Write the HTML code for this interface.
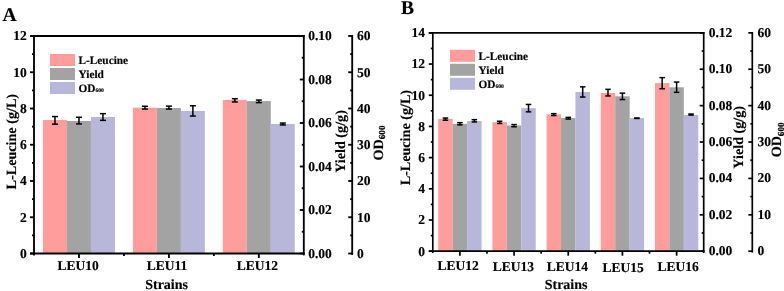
<!DOCTYPE html>
<html><head><meta charset="utf-8"><style>
html,body{margin:0;padding:0;background:#fff;overflow:hidden;width:784px;height:291px;}
svg{display:block;filter:blur(0.3px);}
text{font-family:"Liberation Serif", serif;font-weight:bold;fill:#000;text-rendering:geometricPrecision;stroke:#000;stroke-width:0.15px;}
</style></head><body>
<svg width="784" height="291" viewBox="0 0 784 291">
<rect width="784" height="291" fill="#fff"/>
<rect x="42.99" y="120.00" width="23.98" height="133.50" fill="#FF9D9D"/>
<rect x="66.97" y="121.00" width="23.98" height="132.50" fill="#A3A3A3"/>
<rect x="90.96" y="117.00" width="23.98" height="136.50" fill="#B8B7DA"/>
<rect x="132.92" y="107.70" width="23.98" height="145.80" fill="#FF9D9D"/>
<rect x="156.90" y="108.00" width="23.98" height="145.50" fill="#A3A3A3"/>
<rect x="180.89" y="111.00" width="23.98" height="142.50" fill="#B8B7DA"/>
<rect x="222.85" y="99.90" width="23.98" height="153.60" fill="#FF9D9D"/>
<rect x="246.83" y="101.10" width="23.98" height="152.40" fill="#A3A3A3"/>
<rect x="270.82" y="124.00" width="23.98" height="129.50" fill="#B8B7DA"/>
<line x1="54.98366666666667" y1="116.55" x2="54.98366666666667" y2="124.15" stroke="#000" stroke-width="1.5"/>
<line x1="51.98366666666667" y1="116.55" x2="57.98366666666667" y2="116.55" stroke="#000" stroke-width="1.5"/>
<line x1="51.98366666666667" y1="124.15" x2="57.98366666666667" y2="124.15" stroke="#000" stroke-width="1.5"/>
<line x1="78.965" y1="117.25" x2="78.965" y2="123.95" stroke="#000" stroke-width="1.5"/>
<line x1="75.965" y1="117.25" x2="81.965" y2="117.25" stroke="#000" stroke-width="1.5"/>
<line x1="75.965" y1="123.95" x2="81.965" y2="123.95" stroke="#000" stroke-width="1.5"/>
<line x1="102.94633333333334" y1="113.65" x2="102.94633333333334" y2="120.35" stroke="#000" stroke-width="1.5"/>
<line x1="99.94633333333334" y1="113.65" x2="105.94633333333334" y2="113.65" stroke="#000" stroke-width="1.5"/>
<line x1="99.94633333333334" y1="120.35" x2="105.94633333333334" y2="120.35" stroke="#000" stroke-width="1.5"/>
<line x1="144.91366666666667" y1="106.25" x2="144.91366666666667" y2="109.05" stroke="#000" stroke-width="1.5"/>
<line x1="141.91366666666667" y1="106.25" x2="147.91366666666667" y2="106.25" stroke="#000" stroke-width="1.5"/>
<line x1="141.91366666666667" y1="109.05" x2="147.91366666666667" y2="109.05" stroke="#000" stroke-width="1.5"/>
<line x1="168.895" y1="106.15" x2="168.895" y2="109.05" stroke="#000" stroke-width="1.5"/>
<line x1="165.895" y1="106.15" x2="171.895" y2="106.15" stroke="#000" stroke-width="1.5"/>
<line x1="165.895" y1="109.05" x2="171.895" y2="109.05" stroke="#000" stroke-width="1.5"/>
<line x1="192.87633333333335" y1="105.75" x2="192.87633333333335" y2="116.05" stroke="#000" stroke-width="1.5"/>
<line x1="189.87633333333335" y1="105.75" x2="195.87633333333335" y2="105.75" stroke="#000" stroke-width="1.5"/>
<line x1="189.87633333333335" y1="116.05" x2="195.87633333333335" y2="116.05" stroke="#000" stroke-width="1.5"/>
<line x1="234.84366666666668" y1="98.75" x2="234.84366666666668" y2="101.95" stroke="#000" stroke-width="1.5"/>
<line x1="231.84366666666668" y1="98.75" x2="237.84366666666668" y2="98.75" stroke="#000" stroke-width="1.5"/>
<line x1="231.84366666666668" y1="101.95" x2="237.84366666666668" y2="101.95" stroke="#000" stroke-width="1.5"/>
<line x1="258.825" y1="100.05" x2="258.825" y2="102.65" stroke="#000" stroke-width="1.5"/>
<line x1="255.825" y1="100.05" x2="261.825" y2="100.05" stroke="#000" stroke-width="1.5"/>
<line x1="255.825" y1="102.65" x2="261.825" y2="102.65" stroke="#000" stroke-width="1.5"/>
<line x1="282.8063333333333" y1="123.05" x2="282.8063333333333" y2="124.95" stroke="#000" stroke-width="1.5"/>
<line x1="279.8063333333333" y1="123.05" x2="285.8063333333333" y2="123.05" stroke="#000" stroke-width="1.5"/>
<line x1="279.8063333333333" y1="124.95" x2="285.8063333333333" y2="124.95" stroke="#000" stroke-width="1.5"/>
<line x1="34.0" y1="35.075" x2="34.0" y2="255.425" stroke="#000" stroke-width="1.85"/>
<line x1="303.8" y1="35.075" x2="303.8" y2="255.425" stroke="#000" stroke-width="1.85"/>
<line x1="30.0" y1="36" x2="304.725" y2="36" stroke="#000" stroke-width="1.85"/>
<line x1="30.0" y1="253.5" x2="304.725" y2="253.5" stroke="#000" stroke-width="1.85"/>
<line x1="30.0" y1="253.5" x2="34.0" y2="253.5" stroke="#000" stroke-width="1.85"/>
<line x1="32.0" y1="235.375" x2="34.0" y2="235.375" stroke="#000" stroke-width="1.85"/>
<line x1="30.0" y1="217.25" x2="34.0" y2="217.25" stroke="#000" stroke-width="1.85"/>
<line x1="32.0" y1="199.125" x2="34.0" y2="199.125" stroke="#000" stroke-width="1.85"/>
<line x1="30.0" y1="181.0" x2="34.0" y2="181.0" stroke="#000" stroke-width="1.85"/>
<line x1="32.0" y1="162.875" x2="34.0" y2="162.875" stroke="#000" stroke-width="1.85"/>
<line x1="30.0" y1="144.75" x2="34.0" y2="144.75" stroke="#000" stroke-width="1.85"/>
<line x1="32.0" y1="126.625" x2="34.0" y2="126.625" stroke="#000" stroke-width="1.85"/>
<line x1="30.0" y1="108.5" x2="34.0" y2="108.5" stroke="#000" stroke-width="1.85"/>
<line x1="32.0" y1="90.375" x2="34.0" y2="90.375" stroke="#000" stroke-width="1.85"/>
<line x1="30.0" y1="72.25" x2="34.0" y2="72.25" stroke="#000" stroke-width="1.85"/>
<line x1="32.0" y1="54.125" x2="34.0" y2="54.125" stroke="#000" stroke-width="1.85"/>
<line x1="30.0" y1="36.0" x2="34.0" y2="36.0" stroke="#000" stroke-width="1.85"/>
<line x1="299.8" y1="253.5" x2="303.8" y2="253.5" stroke="#000" stroke-width="1.85"/>
<line x1="301.8" y1="231.75" x2="303.8" y2="231.75" stroke="#000" stroke-width="1.85"/>
<line x1="299.8" y1="210.0" x2="303.8" y2="210.0" stroke="#000" stroke-width="1.85"/>
<line x1="301.8" y1="188.25" x2="303.8" y2="188.25" stroke="#000" stroke-width="1.85"/>
<line x1="299.8" y1="166.5" x2="303.8" y2="166.5" stroke="#000" stroke-width="1.85"/>
<line x1="301.8" y1="144.75" x2="303.8" y2="144.75" stroke="#000" stroke-width="1.85"/>
<line x1="299.8" y1="123.0" x2="303.8" y2="123.0" stroke="#000" stroke-width="1.85"/>
<line x1="301.8" y1="101.25" x2="303.8" y2="101.25" stroke="#000" stroke-width="1.85"/>
<line x1="299.8" y1="79.5" x2="303.8" y2="79.5" stroke="#000" stroke-width="1.85"/>
<line x1="301.8" y1="57.75" x2="303.8" y2="57.75" stroke="#000" stroke-width="1.85"/>
<line x1="299.8" y1="36.0" x2="303.8" y2="36.0" stroke="#000" stroke-width="1.85"/>
<line x1="352.2" y1="35.075" x2="352.2" y2="254.925" stroke="#000" stroke-width="1.85"/>
<line x1="348.2" y1="253.5" x2="352.2" y2="253.5" stroke="#000" stroke-width="1.85"/>
<line x1="350.2" y1="235.375" x2="352.2" y2="235.375" stroke="#000" stroke-width="1.85"/>
<line x1="348.2" y1="217.25" x2="352.2" y2="217.25" stroke="#000" stroke-width="1.85"/>
<line x1="350.2" y1="199.125" x2="352.2" y2="199.125" stroke="#000" stroke-width="1.85"/>
<line x1="348.2" y1="181.0" x2="352.2" y2="181.0" stroke="#000" stroke-width="1.85"/>
<line x1="350.2" y1="162.875" x2="352.2" y2="162.875" stroke="#000" stroke-width="1.85"/>
<line x1="348.2" y1="144.75" x2="352.2" y2="144.75" stroke="#000" stroke-width="1.85"/>
<line x1="350.2" y1="126.625" x2="352.2" y2="126.625" stroke="#000" stroke-width="1.85"/>
<line x1="348.2" y1="108.5" x2="352.2" y2="108.5" stroke="#000" stroke-width="1.85"/>
<line x1="350.2" y1="90.375" x2="352.2" y2="90.375" stroke="#000" stroke-width="1.85"/>
<line x1="348.2" y1="72.25" x2="352.2" y2="72.25" stroke="#000" stroke-width="1.85"/>
<line x1="350.2" y1="54.125" x2="352.2" y2="54.125" stroke="#000" stroke-width="1.85"/>
<line x1="348.2" y1="36.0" x2="352.2" y2="36.0" stroke="#000" stroke-width="1.85"/>
<line x1="78.96666666666667" y1="253.5" x2="78.96666666666667" y2="258.0" stroke="#000" stroke-width="1.85"/>
<line x1="123.93333333333334" y1="253.5" x2="123.93333333333334" y2="256.0" stroke="#000" stroke-width="1.85"/>
<line x1="168.9" y1="253.5" x2="168.9" y2="258.0" stroke="#000" stroke-width="1.85"/>
<line x1="213.86666666666667" y1="253.5" x2="213.86666666666667" y2="256.0" stroke="#000" stroke-width="1.85"/>
<line x1="258.83333333333337" y1="253.5" x2="258.83333333333337" y2="258.0" stroke="#000" stroke-width="1.85"/>
<text x="26.80" y="257.90" font-size="13.5" text-anchor="end" >0</text>
<text x="26.80" y="221.65" font-size="13.5" text-anchor="end" >2</text>
<text x="26.80" y="185.40" font-size="13.5" text-anchor="end" >4</text>
<text x="26.80" y="149.15" font-size="13.5" text-anchor="end" >6</text>
<text x="26.80" y="112.90" font-size="13.5" text-anchor="end" >8</text>
<text x="26.80" y="76.65" font-size="13.5" text-anchor="end" >10</text>
<text x="26.80" y="40.40" font-size="13.5" text-anchor="end" >12</text>
<text x="308.20" y="257.90" font-size="13.5" text-anchor="start" >0.00</text>
<text x="308.20" y="214.40" font-size="13.5" text-anchor="start" >0.02</text>
<text x="308.20" y="170.90" font-size="13.5" text-anchor="start" >0.04</text>
<text x="308.20" y="127.40" font-size="13.5" text-anchor="start" >0.06</text>
<text x="308.20" y="83.90" font-size="13.5" text-anchor="start" >0.08</text>
<text x="308.20" y="40.40" font-size="13.5" text-anchor="start" >0.10</text>
<text x="357.00" y="257.90" font-size="13.5" text-anchor="start" >0</text>
<text x="357.00" y="221.65" font-size="13.5" text-anchor="start" >10</text>
<text x="357.00" y="185.40" font-size="13.5" text-anchor="start" >20</text>
<text x="357.00" y="149.15" font-size="13.5" text-anchor="start" >30</text>
<text x="357.00" y="112.90" font-size="13.5" text-anchor="start" >40</text>
<text x="357.00" y="76.65" font-size="13.5" text-anchor="start" >50</text>
<text x="357.00" y="40.40" font-size="13.5" text-anchor="start" >60</text>
<text x="78.20" y="270.30" font-size="13.5" text-anchor="middle" >LEU10</text>
<text x="167.10" y="270.40" font-size="13.5" text-anchor="middle" >LEU11</text>
<text x="257.35" y="270.40" font-size="13.5" text-anchor="middle" >LEU12</text>
<text x="166.60" y="289.20" font-size="14" text-anchor="middle" >Strains</text>
<text transform="translate(16.0,141.7) rotate(-90)" font-size="14.15" text-anchor="middle">L-Leucine (g/L)</text>
<text transform="translate(344.5,141.5) rotate(-90)" font-size="14.15" text-anchor="middle">Yield (g/g)</text>
<text transform="translate(383,143) rotate(-90)" font-size="14.15" text-anchor="middle">OD<tspan font-size="9.2" dy="2.3">600</tspan></text>
<rect x="50.00" y="54.00" width="25.00" height="12.00" fill="#FF9D9D"/>
<text x="78.50" y="63.80" font-size="11.3" text-anchor="start" >L-Leucine</text>
<rect x="50.00" y="68.00" width="25.00" height="12.00" fill="#A3A3A3"/>
<text x="78.50" y="77.80" font-size="11.3" text-anchor="start" >Yield</text>
<rect x="50.00" y="82.00" width="25.00" height="12.00" fill="#B8B7DA"/>
<text x="78.5" y="91.9" font-size="11.3">OD<tspan font-size="5.6">600</tspan></text>
<text x="2.50" y="20.60" font-size="19.5" text-anchor="start" >A</text>
<rect x="438.22" y="118.90" width="14.45" height="132.30" fill="#FF9D9D"/>
<rect x="452.67" y="123.90" width="14.45" height="127.30" fill="#A3A3A3"/>
<rect x="467.11" y="121.00" width="14.45" height="130.20" fill="#B8B7DA"/>
<rect x="492.40" y="122.20" width="14.45" height="129.00" fill="#FF9D9D"/>
<rect x="506.85" y="125.50" width="14.45" height="125.70" fill="#A3A3A3"/>
<rect x="521.29" y="108.10" width="14.45" height="143.10" fill="#B8B7DA"/>
<rect x="546.58" y="114.30" width="14.45" height="136.90" fill="#FF9D9D"/>
<rect x="561.03" y="118.00" width="14.45" height="133.20" fill="#A3A3A3"/>
<rect x="575.47" y="92.00" width="14.45" height="159.20" fill="#B8B7DA"/>
<rect x="600.76" y="92.90" width="14.45" height="158.30" fill="#FF9D9D"/>
<rect x="615.21" y="96.30" width="14.45" height="154.90" fill="#A3A3A3"/>
<rect x="629.65" y="118.10" width="14.45" height="133.10" fill="#B8B7DA"/>
<rect x="654.94" y="83.10" width="14.45" height="168.10" fill="#FF9D9D"/>
<rect x="669.39" y="87.30" width="14.45" height="163.90" fill="#A3A3A3"/>
<rect x="683.83" y="115.00" width="14.45" height="136.20" fill="#B8B7DA"/>
<line x1="445.442" y1="118.05" x2="445.442" y2="120.25" stroke="#000" stroke-width="1.5"/>
<line x1="442.692" y1="118.05" x2="448.192" y2="118.05" stroke="#000" stroke-width="1.5"/>
<line x1="442.692" y1="120.25" x2="448.192" y2="120.25" stroke="#000" stroke-width="1.5"/>
<line x1="459.89" y1="122.65" x2="459.89" y2="124.85" stroke="#000" stroke-width="1.5"/>
<line x1="457.14" y1="122.65" x2="462.64" y2="122.65" stroke="#000" stroke-width="1.5"/>
<line x1="457.14" y1="124.85" x2="462.64" y2="124.85" stroke="#000" stroke-width="1.5"/>
<line x1="474.338" y1="119.65" x2="474.338" y2="121.95" stroke="#000" stroke-width="1.5"/>
<line x1="471.588" y1="119.65" x2="477.088" y2="119.65" stroke="#000" stroke-width="1.5"/>
<line x1="471.588" y1="121.95" x2="477.088" y2="121.95" stroke="#000" stroke-width="1.5"/>
<line x1="499.622" y1="121.25" x2="499.622" y2="123.45" stroke="#000" stroke-width="1.5"/>
<line x1="496.872" y1="121.25" x2="502.372" y2="121.25" stroke="#000" stroke-width="1.5"/>
<line x1="496.872" y1="123.45" x2="502.372" y2="123.45" stroke="#000" stroke-width="1.5"/>
<line x1="514.07" y1="124.55" x2="514.07" y2="126.75" stroke="#000" stroke-width="1.5"/>
<line x1="511.32000000000005" y1="124.55" x2="516.82" y2="124.55" stroke="#000" stroke-width="1.5"/>
<line x1="511.32000000000005" y1="126.75" x2="516.82" y2="126.75" stroke="#000" stroke-width="1.5"/>
<line x1="528.518" y1="104.45" x2="528.518" y2="111.85" stroke="#000" stroke-width="1.5"/>
<line x1="525.768" y1="104.45" x2="531.268" y2="104.45" stroke="#000" stroke-width="1.5"/>
<line x1="525.768" y1="111.85" x2="531.268" y2="111.85" stroke="#000" stroke-width="1.5"/>
<line x1="553.802" y1="113.65" x2="553.802" y2="115.55" stroke="#000" stroke-width="1.5"/>
<line x1="551.052" y1="113.65" x2="556.552" y2="113.65" stroke="#000" stroke-width="1.5"/>
<line x1="551.052" y1="115.55" x2="556.552" y2="115.55" stroke="#000" stroke-width="1.5"/>
<line x1="568.25" y1="117.35" x2="568.25" y2="119.05" stroke="#000" stroke-width="1.5"/>
<line x1="565.5" y1="117.35" x2="571.0" y2="117.35" stroke="#000" stroke-width="1.5"/>
<line x1="565.5" y1="119.05" x2="571.0" y2="119.05" stroke="#000" stroke-width="1.5"/>
<line x1="582.698" y1="86.85" x2="582.698" y2="97.05" stroke="#000" stroke-width="1.5"/>
<line x1="579.948" y1="86.85" x2="585.448" y2="86.85" stroke="#000" stroke-width="1.5"/>
<line x1="579.948" y1="97.05" x2="585.448" y2="97.05" stroke="#000" stroke-width="1.5"/>
<line x1="607.9820000000001" y1="89.35" x2="607.9820000000001" y2="95.95" stroke="#000" stroke-width="1.5"/>
<line x1="605.2320000000001" y1="89.35" x2="610.7320000000001" y2="89.35" stroke="#000" stroke-width="1.5"/>
<line x1="605.2320000000001" y1="95.95" x2="610.7320000000001" y2="95.95" stroke="#000" stroke-width="1.5"/>
<line x1="622.4300000000001" y1="93.15" x2="622.4300000000001" y2="99.55" stroke="#000" stroke-width="1.5"/>
<line x1="619.6800000000001" y1="93.15" x2="625.1800000000001" y2="93.15" stroke="#000" stroke-width="1.5"/>
<line x1="619.6800000000001" y1="99.55" x2="625.1800000000001" y2="99.55" stroke="#000" stroke-width="1.5"/>
<line x1="636.878" y1="118.05" x2="636.878" y2="118.45" stroke="#000" stroke-width="1.5"/>
<line x1="634.128" y1="118.05" x2="639.628" y2="118.05" stroke="#000" stroke-width="1.5"/>
<line x1="634.128" y1="118.45" x2="639.628" y2="118.45" stroke="#000" stroke-width="1.5"/>
<line x1="662.162" y1="77.65" x2="662.162" y2="88.75" stroke="#000" stroke-width="1.5"/>
<line x1="659.412" y1="77.65" x2="664.912" y2="77.65" stroke="#000" stroke-width="1.5"/>
<line x1="659.412" y1="88.75" x2="664.912" y2="88.75" stroke="#000" stroke-width="1.5"/>
<line x1="676.61" y1="82.05" x2="676.61" y2="92.35" stroke="#000" stroke-width="1.5"/>
<line x1="673.86" y1="82.05" x2="679.36" y2="82.05" stroke="#000" stroke-width="1.5"/>
<line x1="673.86" y1="92.35" x2="679.36" y2="92.35" stroke="#000" stroke-width="1.5"/>
<line x1="691.058" y1="114.05" x2="691.058" y2="115.05" stroke="#000" stroke-width="1.5"/>
<line x1="688.308" y1="114.05" x2="693.808" y2="114.05" stroke="#000" stroke-width="1.5"/>
<line x1="688.308" y1="115.05" x2="693.808" y2="115.05" stroke="#000" stroke-width="1.5"/>
<line x1="432.8" y1="32.0" x2="432.8" y2="253.04999999999998" stroke="#000" stroke-width="1.7"/>
<line x1="703.7" y1="32.0" x2="703.7" y2="253.04999999999998" stroke="#000" stroke-width="1.7"/>
<line x1="428.8" y1="32.85" x2="704.5500000000001" y2="32.85" stroke="#000" stroke-width="1.7"/>
<line x1="428.8" y1="251.2" x2="704.5500000000001" y2="251.2" stroke="#000" stroke-width="1.7"/>
<line x1="428.8" y1="251.2" x2="432.8" y2="251.2" stroke="#000" stroke-width="1.7"/>
<line x1="430.8" y1="235.60357142857143" x2="432.8" y2="235.60357142857143" stroke="#000" stroke-width="1.7"/>
<line x1="428.8" y1="220.00714285714284" x2="432.8" y2="220.00714285714284" stroke="#000" stroke-width="1.7"/>
<line x1="430.8" y1="204.41071428571428" x2="432.8" y2="204.41071428571428" stroke="#000" stroke-width="1.7"/>
<line x1="428.8" y1="188.8142857142857" x2="432.8" y2="188.8142857142857" stroke="#000" stroke-width="1.7"/>
<line x1="430.8" y1="173.21785714285713" x2="432.8" y2="173.21785714285713" stroke="#000" stroke-width="1.7"/>
<line x1="428.8" y1="157.62142857142857" x2="432.8" y2="157.62142857142857" stroke="#000" stroke-width="1.7"/>
<line x1="430.8" y1="142.02499999999998" x2="432.8" y2="142.02499999999998" stroke="#000" stroke-width="1.7"/>
<line x1="428.8" y1="126.42857142857142" x2="432.8" y2="126.42857142857142" stroke="#000" stroke-width="1.7"/>
<line x1="430.8" y1="110.83214285714286" x2="432.8" y2="110.83214285714286" stroke="#000" stroke-width="1.7"/>
<line x1="428.8" y1="95.23571428571427" x2="432.8" y2="95.23571428571427" stroke="#000" stroke-width="1.7"/>
<line x1="430.8" y1="79.6392857142857" x2="432.8" y2="79.6392857142857" stroke="#000" stroke-width="1.7"/>
<line x1="428.8" y1="64.04285714285714" x2="432.8" y2="64.04285714285714" stroke="#000" stroke-width="1.7"/>
<line x1="430.8" y1="48.446428571428584" x2="432.8" y2="48.446428571428584" stroke="#000" stroke-width="1.7"/>
<line x1="428.8" y1="32.849999999999994" x2="432.8" y2="32.849999999999994" stroke="#000" stroke-width="1.7"/>
<line x1="699.7" y1="251.2" x2="703.7" y2="251.2" stroke="#000" stroke-width="1.7"/>
<line x1="701.7" y1="233.00416666666666" x2="703.7" y2="233.00416666666666" stroke="#000" stroke-width="1.7"/>
<line x1="699.7" y1="214.80833333333334" x2="703.7" y2="214.80833333333334" stroke="#000" stroke-width="1.7"/>
<line x1="701.7" y1="196.61249999999998" x2="703.7" y2="196.61249999999998" stroke="#000" stroke-width="1.7"/>
<line x1="699.7" y1="178.41666666666666" x2="703.7" y2="178.41666666666666" stroke="#000" stroke-width="1.7"/>
<line x1="701.7" y1="160.2208333333333" x2="703.7" y2="160.2208333333333" stroke="#000" stroke-width="1.7"/>
<line x1="699.7" y1="142.02499999999998" x2="703.7" y2="142.02499999999998" stroke="#000" stroke-width="1.7"/>
<line x1="701.7" y1="123.82916666666665" x2="703.7" y2="123.82916666666665" stroke="#000" stroke-width="1.7"/>
<line x1="699.7" y1="105.63333333333333" x2="703.7" y2="105.63333333333333" stroke="#000" stroke-width="1.7"/>
<line x1="701.7" y1="87.4375" x2="703.7" y2="87.4375" stroke="#000" stroke-width="1.7"/>
<line x1="699.7" y1="69.24166666666665" x2="703.7" y2="69.24166666666665" stroke="#000" stroke-width="1.7"/>
<line x1="701.7" y1="51.04583333333332" x2="703.7" y2="51.04583333333332" stroke="#000" stroke-width="1.7"/>
<line x1="699.7" y1="32.849999999999994" x2="703.7" y2="32.849999999999994" stroke="#000" stroke-width="1.7"/>
<line x1="752.3" y1="32.0" x2="752.3" y2="252.54999999999998" stroke="#000" stroke-width="1.7"/>
<line x1="748.3" y1="251.2" x2="752.3" y2="251.2" stroke="#000" stroke-width="1.7"/>
<line x1="750.3" y1="233.00416666666666" x2="752.3" y2="233.00416666666666" stroke="#000" stroke-width="1.7"/>
<line x1="748.3" y1="214.80833333333334" x2="752.3" y2="214.80833333333334" stroke="#000" stroke-width="1.7"/>
<line x1="750.3" y1="196.61249999999998" x2="752.3" y2="196.61249999999998" stroke="#000" stroke-width="1.7"/>
<line x1="748.3" y1="178.41666666666666" x2="752.3" y2="178.41666666666666" stroke="#000" stroke-width="1.7"/>
<line x1="750.3" y1="160.2208333333333" x2="752.3" y2="160.2208333333333" stroke="#000" stroke-width="1.7"/>
<line x1="748.3" y1="142.02499999999998" x2="752.3" y2="142.02499999999998" stroke="#000" stroke-width="1.7"/>
<line x1="750.3" y1="123.82916666666665" x2="752.3" y2="123.82916666666665" stroke="#000" stroke-width="1.7"/>
<line x1="748.3" y1="105.63333333333333" x2="752.3" y2="105.63333333333333" stroke="#000" stroke-width="1.7"/>
<line x1="750.3" y1="87.4375" x2="752.3" y2="87.4375" stroke="#000" stroke-width="1.7"/>
<line x1="748.3" y1="69.24166666666665" x2="752.3" y2="69.24166666666665" stroke="#000" stroke-width="1.7"/>
<line x1="750.3" y1="51.04583333333332" x2="752.3" y2="51.04583333333332" stroke="#000" stroke-width="1.7"/>
<line x1="748.3" y1="32.849999999999994" x2="752.3" y2="32.849999999999994" stroke="#000" stroke-width="1.7"/>
<line x1="459.89" y1="251.2" x2="459.89" y2="255.7" stroke="#000" stroke-width="1.7"/>
<line x1="486.98" y1="251.2" x2="486.98" y2="253.7" stroke="#000" stroke-width="1.7"/>
<line x1="514.07" y1="251.2" x2="514.07" y2="255.7" stroke="#000" stroke-width="1.7"/>
<line x1="541.1600000000001" y1="251.2" x2="541.1600000000001" y2="253.7" stroke="#000" stroke-width="1.7"/>
<line x1="568.25" y1="251.2" x2="568.25" y2="255.7" stroke="#000" stroke-width="1.7"/>
<line x1="595.34" y1="251.2" x2="595.34" y2="253.7" stroke="#000" stroke-width="1.7"/>
<line x1="622.4300000000001" y1="251.2" x2="622.4300000000001" y2="255.7" stroke="#000" stroke-width="1.7"/>
<line x1="649.52" y1="251.2" x2="649.52" y2="253.7" stroke="#000" stroke-width="1.7"/>
<line x1="676.61" y1="251.2" x2="676.61" y2="255.7" stroke="#000" stroke-width="1.7"/>
<text x="424.90" y="255.60" font-size="13.5" text-anchor="end" >0</text>
<text x="424.90" y="224.41" font-size="13.5" text-anchor="end" >2</text>
<text x="424.90" y="193.21" font-size="13.5" text-anchor="end" >4</text>
<text x="424.90" y="162.02" font-size="13.5" text-anchor="end" >6</text>
<text x="424.90" y="130.83" font-size="13.5" text-anchor="end" >8</text>
<text x="424.90" y="99.64" font-size="13.5" text-anchor="end" >10</text>
<text x="424.90" y="68.44" font-size="13.5" text-anchor="end" >12</text>
<text x="424.90" y="37.25" font-size="13.5" text-anchor="end" >14</text>
<text x="708.70" y="255.20" font-size="13.5" text-anchor="start" >0.00</text>
<text x="708.70" y="218.81" font-size="13.5" text-anchor="start" >0.02</text>
<text x="708.70" y="182.42" font-size="13.5" text-anchor="start" >0.04</text>
<text x="708.70" y="146.02" font-size="13.5" text-anchor="start" >0.06</text>
<text x="708.70" y="109.63" font-size="13.5" text-anchor="start" >0.08</text>
<text x="708.70" y="73.24" font-size="13.5" text-anchor="start" >0.10</text>
<text x="708.70" y="36.85" font-size="13.5" text-anchor="start" >0.12</text>
<text x="757.40" y="255.20" font-size="13.5" text-anchor="start" >0</text>
<text x="757.40" y="218.81" font-size="13.5" text-anchor="start" >10</text>
<text x="757.40" y="182.42" font-size="13.5" text-anchor="start" >20</text>
<text x="757.40" y="146.02" font-size="13.5" text-anchor="start" >30</text>
<text x="757.40" y="109.63" font-size="13.5" text-anchor="start" >40</text>
<text x="757.40" y="73.24" font-size="13.5" text-anchor="start" >50</text>
<text x="757.40" y="36.85" font-size="13.5" text-anchor="start" >60</text>
<text x="458.10" y="269.80" font-size="13.5" text-anchor="middle" >LEU12</text>
<text x="513.30" y="271.20" font-size="13.5" text-anchor="middle" >LEU13</text>
<text x="567.35" y="270.90" font-size="13.5" text-anchor="middle" >LEU14</text>
<text x="623.10" y="272.30" font-size="13.5" text-anchor="middle" >LEU15</text>
<text x="678.20" y="270.70" font-size="13.5" text-anchor="middle" >LEU16</text>
<text x="566.10" y="289.10" font-size="14" text-anchor="middle" >Strains</text>
<text transform="translate(409.8,137.65) rotate(-90)" font-size="14.15" text-anchor="middle">L-Leucine (g/L)</text>
<text transform="translate(742.8,137.3) rotate(-90)" font-size="14.15" text-anchor="middle">Yield (g/g)</text>
<text transform="translate(780.6,139.85) rotate(-90)" font-size="14.15" text-anchor="middle">OD<tspan font-size="9.2" dy="3.0">600</tspan></text>
<rect x="450.00" y="49.80" width="25.00" height="12.00" fill="#FF9D9D"/>
<text x="478.50" y="59.60" font-size="11.3" text-anchor="start" >L-Leucine</text>
<rect x="450.00" y="63.80" width="25.00" height="12.00" fill="#A3A3A3"/>
<text x="478.50" y="73.60" font-size="11.3" text-anchor="start" >Yield</text>
<rect x="450.00" y="77.80" width="25.00" height="12.00" fill="#B8B7DA"/>
<text x="478.5" y="87.7" font-size="11.3">OD<tspan font-size="5.6">600</tspan></text>
<text x="401.00" y="14.10" font-size="19.5" text-anchor="start" >B</text>
</svg>
</body></html>
